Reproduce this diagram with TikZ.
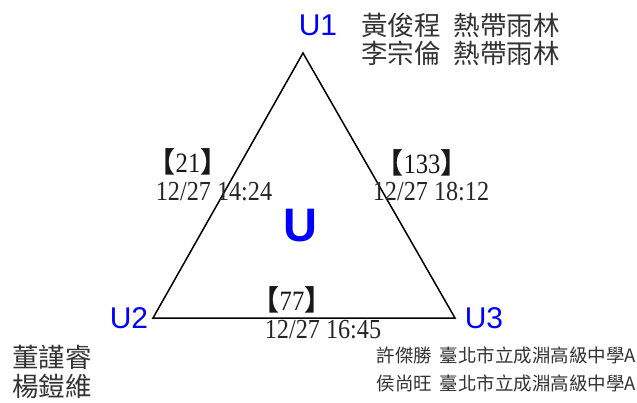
\documentclass[tikz,border=0pt]{standalone}
\usepackage{fontspec}
\setmainfont{Liberation Serif}
\newfontfamily\cjk{Noto Sans CJK TC}
\newfontfamily\arialf{Liberation Sans}
\newfontfamily\condserif{Liberation Serif}[FakeStretch=0.88]
\begin{document}
\begin{tikzpicture}[x=1pt,y=-1pt,
  vlabel/.style={text=blue,font=\arialf\fontsize{30}{30}\selectfont,inner sep=0pt},
  personname/.style={text=black!80,font=\cjk\fontsize{26.5}{26.5}\selectfont,inner sep=0pt},
  schoolname/.style={text=black!80,font=\cjk\fontsize{18.5}{18.5}\selectfont,inner sep=0pt},
  cntlabel/.style={text=black!90,font=\cjk\bfseries\fontsize{28}{28}\selectfont,inner sep=0pt},
  stamplabel/.style={text=black!85,font=\condserif\fontsize{27.5}{27.5}\selectfont,inner sep=0pt},
  triedge/.style={line width=1.5pt,black}]
\useasboundingbox (0,0) rectangle (637,403);
\fill[white] (0,0) rectangle (637,403);
\coordinate (A) at (303,53);
\coordinate (B) at (153,318);
\coordinate (C) at (455,318);
\draw[triedge,line join=miter] (A) -- (B) -- (C) -- cycle;
\node[vlabel] (u1) at (318,25) {U1};
\node[vlabel] (u2) at (129,318) {U2};
\node[vlabel] (u3) at (484,318) {U3};
\node[text=blue,font=\arialf\bfseries\fontsize{47}{47}\selectfont,inner sep=0pt] (u) at (300,226) {U};
\node[personname,anchor=west] (n1) at (361,25) {黃俊程\hspace{0.5em}熱帶雨林};
\node[personname,anchor=west] (n2) at (361,53) {李宗倫\hspace{0.5em}熱帶雨林};
\node[personname,anchor=west] (n3) at (12,357) {董謹睿};
\node[personname,anchor=west] (n4) at (12,386) {楊鎧維};
\node[schoolname,anchor=east] (s1) at (636,355) {許傑勝\hspace{0.4em}臺北市立成淵高級中學A};
\node[schoolname,anchor=east] (s2) at (636,383) {侯尚旺\hspace{0.4em}臺北市立成淵高級中學A};
\node[cntlabel] (c1) at (188,162) {【{\mdseries\condserif 21}】};
\node[stamplabel] (t1) at (214,192) {12/27 14:24};
\node[cntlabel] (c2) at (422,163) {【{\mdseries\condserif 133}】};
\node[stamplabel] (t2) at (431,192) {12/27 18:12};
\node[cntlabel] (c3) at (292,300) {【{\mdseries\condserif 77}】};
\node[stamplabel] (t3) at (323,330) {12/27 16:45};
\end{tikzpicture}
\end{document}
